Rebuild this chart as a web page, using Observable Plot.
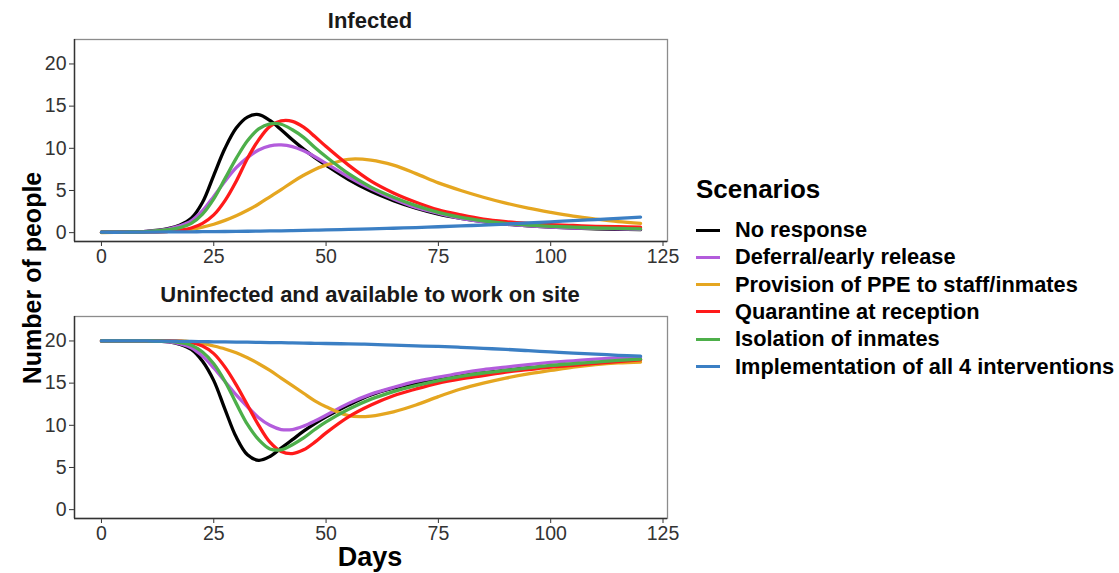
<!DOCTYPE html>
<html><head><meta charset="utf-8">
<script src="https://cdn.jsdelivr.net/npm/d3@7"></script>
<script src="https://cdn.jsdelivr.net/npm/@observablehq/plot@0.6"></script>
<style>
body{margin:0;background:#fff;font-family:"Liberation Sans",Arial,sans-serif;}
#wrap{position:relative;width:1119px;height:573px;overflow:hidden;background:#fff;}
.abs{position:absolute;}
.ptitle{font-weight:bold;font-size:22px;color:#1a1a1a;width:740px;text-align:center;left:0;line-height:1;white-space:nowrap;}
.axt{font-weight:bold;font-size:25px;color:#000;line-height:1;white-space:nowrap;}
#legend .lt{font-weight:bold;font-size:26px;color:#000;line-height:1;}
#legend .item{position:absolute;left:0;height:24px;display:flex;align-items:center;white-space:nowrap;}
#legend .sw{width:24px;height:3px;margin-right:15px;}
#legend .lab{font-weight:bold;font-size:21.8px;color:#000;}
</style></head>
<body>
<div id="wrap">
  <div class="abs ptitle" style="top:10px">Infected</div>
  <div class="abs ptitle" style="top:284px">Uninfected and available to work on site</div>
  <div id="p1" class="abs" style="left:0;top:0"></div>
  <div id="p2" class="abs" style="left:0;top:275px"></div>
  <div class="abs axt" style="left:32px;top:278px;transform:translate(-50%,-50%) rotate(-90deg);">Number of people</div>
  <div class="abs axt" style="left:370px;top:544px;font-size:27px;transform:translateX(-50%);">Days</div>
  <div id="legend" class="abs" style="left:696px;top:176px;width:423px;height:210px;"></div>
</div>
<script>
const days = [0,5,10,15,17.5,20,22.5,25,27.5,30,32.5,35,37.5,40,42.5,45,47.5,50,55,60,65,70,75,80,85,90,95,100,105,110,115,120];
const scenarios = ["No response","Deferral/early release","Provision of PPE to staff/inmates","Quarantine at reception","Isolation of inmates","Implementation of all 4 interventions"];
const colors = ["#000000","#B35CDC","#E5A620","#FF1A1A","#4DAF4A","#3B7FC4"];
const xTicks = [0,25,50,75,100,125];
const yTicks = [0,5,10,15,20];

// Infected
const infNoResponse = [0.05,0.08,0.15,0.5,0.9,1.7,3.6,6.8,10.0,12.4,13.7,14.0,13.3,12.2,11.0,9.9,8.9,8.0,6.3,4.9,3.8,2.9,2.2,1.7,1.3,1.0,0.8,0.65,0.55,0.45,0.4,0.35];
const infDeferral   = [0.05,0.08,0.15,0.45,0.8,1.4,2.6,4.3,6.1,7.7,8.9,9.8,10.3,10.4,10.2,9.7,9.0,8.2,6.6,5.2,4.0,3.0,2.3,1.7,1.3,1.0,0.8,0.65,0.55,0.5,0.45,0.4];
const infPPE        = [0.02,0.03,0.06,0.15,0.25,0.4,0.65,1.0,1.45,2.0,2.65,3.4,4.25,5.1,6.0,6.8,7.5,8.0,8.7,8.6,8.0,7.0,5.9,5.0,4.2,3.5,2.9,2.4,1.95,1.6,1.3,1.1];
const infQuarantine = [0.05,0.06,0.08,0.15,0.3,0.55,1.1,2.1,3.8,6.1,8.8,11.0,12.6,13.25,13.2,12.5,11.4,10.2,8.0,6.1,4.7,3.6,2.7,2.1,1.6,1.3,1.1,0.95,0.85,0.75,0.7,0.65];
const infIsolation  = [0.05,0.07,0.12,0.35,0.6,1.1,2.2,4.0,6.4,8.8,10.9,12.3,12.9,12.85,12.2,11.3,10.1,9.0,7.0,5.4,4.2,3.2,2.4,1.8,1.4,1.1,0.9,0.75,0.65,0.55,0.5,0.45];
const infAll4       = [0.05,0.05,0.06,0.08,0.09,0.1,0.11,0.12,0.135,0.15,0.165,0.18,0.2,0.22,0.245,0.27,0.295,0.32,0.38,0.45,0.52,0.6,0.7,0.8,0.9,1.02,1.15,1.28,1.42,1.55,1.7,1.85];

// Uninfected and available to work on site
const uninNoResponse = [20,20,20,19.9,19.6,19.0,17.6,15.3,11.9,8.6,6.5,5.85,6.3,7.3,8.3,9.3,10.2,11.0,12.4,13.6,14.4,15.0,15.5,15.9,16.2,16.5,16.8,17.0,17.2,17.4,17.6,17.8];
const uninDeferral   = [20,20,20,19.9,19.65,19.2,18.2,16.8,15.2,13.6,12.2,10.9,10.0,9.5,9.5,9.9,10.5,11.2,12.6,13.7,14.5,15.2,15.7,16.2,16.6,16.9,17.2,17.45,17.65,17.85,18.0,18.1];
const uninPPE        = [20,20,20,20,20,19.9,19.7,19.4,19.05,18.6,18.0,17.3,16.5,15.6,14.7,13.8,12.9,12.2,11.15,11.1,11.6,12.4,13.4,14.3,15.0,15.6,16.1,16.5,16.9,17.2,17.4,17.5];
const uninQuarantine = [20,20,20,20,19.95,19.8,19.4,18.5,16.9,14.8,12.4,10.0,8.0,6.9,6.65,7.1,8.0,9.1,11.0,12.4,13.5,14.3,15.0,15.5,15.9,16.3,16.6,16.9,17.1,17.35,17.55,17.75];
const uninIsolation  = [20,20,20,19.95,19.8,19.5,18.7,17.3,15.2,12.6,10.1,8.3,7.2,7.1,7.7,8.5,9.5,10.4,11.9,13.1,14.0,14.7,15.3,15.8,16.2,16.5,16.8,17.1,17.3,17.5,17.7,17.85];
const uninAll4       = [20,20,20,19.97,19.96,19.95,19.92,19.9,19.88,19.87,19.85,19.83,19.81,19.8,19.77,19.75,19.72,19.7,19.65,19.6,19.5,19.42,19.35,19.25,19.12,19.0,18.85,18.7,18.55,18.45,18.3,18.2];

function toRows(seriesList) {
  const rows = [];
  seriesList.forEach((vals, i) => {
    vals.forEach((v, j) => rows.push({scenario: scenarios[i], day: days[j], value: v}));
  });
  return rows;
}
const infected = toRows([infNoResponse, infDeferral, infPPE, infQuarantine, infIsolation, infAll4]);
const uninfected = toRows([uninNoResponse, uninDeferral, uninPPE, uninQuarantine, uninIsolation, uninAll4]);

const xDom = [-6, 126];
const yDom = [-1.05, 22.9];

function panel(data, height, mt, mb) {
  return Plot.plot({
    width: 680, height, marginLeft: 74, marginRight: 13, marginTop: mt, marginBottom: mb,
    x: {domain: xDom, ticks: xTicks, tickSize: 5, tickPadding: 3, label: null},
    y: {domain: yDom, ticks: yTicks, tickSize: 5, tickPadding: 3, label: null},
    color: {domain: scenarios, range: colors},
    style: {fontFamily: "'Liberation Sans', Arial, sans-serif", fontSize: "19.5px", color: "#333", background: "transparent", overflow: "visible"},
    marks: [
      Plot.frame({stroke: "#8c8c8c", strokeWidth: 1.3}),
      Plot.ruleX([xDom[0]], {stroke: "#333", strokeWidth: 1.4}),
      Plot.ruleY([yDom[0]], {stroke: "#333", strokeWidth: 1.4}),
      Plot.line(data, {x: "day", y: "value", z: "scenario", stroke: "scenario", strokeWidth: 3.3, curve: "catmull-rom"})
    ]
  });
}

document.getElementById("p1").appendChild(panel(infected, 270, 39, 29));
document.getElementById("p2").appendChild(panel(uninfected, 275, 41, 32));

// Legend
const lg = document.getElementById("legend");
const t = document.createElement("div");
t.className = "lt abs"; t.style.left = "0px"; t.style.top = "0px"; t.textContent = "Scenarios";
lg.appendChild(t);
scenarios.forEach((s, i) => {
  const it = document.createElement("div");
  it.className = "item";
  it.style.top = (42 + i * 27.3) + "px";
  const sw = document.createElement("div"); sw.className = "sw"; sw.style.background = colors[i];
  const lab = document.createElement("span"); lab.className = "lab"; lab.textContent = s;
  it.appendChild(sw); it.appendChild(lab); lg.appendChild(it);
});
</script>
</body></html>
